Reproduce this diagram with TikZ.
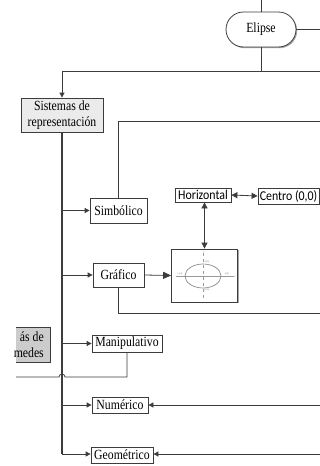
\documentclass[tikz,border=0pt]{standalone}
\usepackage{fontspec}
\setmainfont{Liberation Serif}[FakeStretch=0.84]
\newfontfamily\calib{Carlito}[FakeStretch=0.88]
\usetikzlibrary{arrows.meta,shapes.misc,shadows}
\definecolor{ln}{HTML}{3c3c3c}
\tikzset{
  box/.style={draw=ln, line width=0.8pt, fill=white, inner sep=0pt, align=center,
    font=\fontsize{14}{16}\selectfont,
    copy shadow={shadow xshift=1.2pt, shadow yshift=-1.2pt, fill=black!35, draw=none}},
  sbox/.style={box, font=\calib\fontsize{13.5}{15}\selectfont},
  ln/.style={draw=ln, line width=0.8pt},
  arr/.style={ln, -{Triangle[length=5pt,width=5pt]}},
  darr/.style={ln, {Triangle[length=6pt,width=6pt]}-{Triangle[length=6pt,width=6pt]}},
}
\begin{document}
\begin{tikzpicture}[x=1pt,y=-1pt]
\useasboundingbox (0,0) rectangle (320,466);
\fill[white] (0,0) rectangle (320,466);
% nodes
\node[box, rounded rectangle, minimum width=70, minimum height=35] (eli) at (261,29.5) {Elipse};
\node[box, fill=black!8, minimum width=82, minimum height=34] (sis) at (62,115) {Sistemas de\\representación};
\node[box, minimum width=57, minimum height=25] (simb) at (118.5,210.5) {Simbólico};
\node[box, minimum width=51, minimum height=24] (gra) at (118.5,275) {Gráfico};
\node[box, minimum width=70, minimum height=17] (man) at (127,343.5) {Manipulativo};
\node[box, minimum width=56, minimum height=16] (num) at (120,405) {Numérico};
\node[box, minimum width=62, minimum height=16] (geo) at (122,455) {Geométrico};
\node[sbox, minimum width=56, minimum height=14] (hor) at (203,195) {Horizontal};
\node[sbox, minimum width=61, minimum height=16] (cen) at (288.5,196) {Centro (0,0)};
\node[box, minimum width=66, minimum height=53] (img) at (204.5,275.5) {};
% left clipped box
\begin{scope}
\clip (16,0) rectangle (320,466);
\node[box, fill=black!20, minimum width=60, minimum height=35] (arq) at (20,344.5) {};
\end{scope}
\node[font=\fontsize{14}{16}\selectfont, align=right, inner sep=0pt, anchor=east] (arqt) at (44,344.5) {ás de\\medes};
% ellipse drawing inside image
\draw[black!40, line width=0.5pt] (176,276) -- (234,276);
\draw[black!40, line width=0.5pt, dashed] (203,253) -- (203,299);
\draw[black!45, line width=0.7pt] (203,276) ellipse [x radius=18, y radius=12];
\begin{scope}[font=\fontsize{2.5}{3}\selectfont, text=black!60, inner sep=0pt]
\node (lt) at (207,262) {(0,b)};
\node (lb) at (207,290) {(0,-b)};
\node (ll) at (180,274) {(-a,0)};
\node (lr) at (227,274) {(a,0)};
\node (lx) at (235,277) {x};
\node (ly) at (204,252) {y};
\end{scope}
% coordinates
\coordinate (top) at (261,0);
\coordinate (er) at (320,29.5);
\coordinate (h1) at (261,71);
\coordinate (h1r) at (320,71);
\coordinate (r1) at (320,121);
\coordinate (r2) at (320,313);
\coordinate (r3) at (320,405);
\coordinate (r4) at (320,454);
\coordinate (tb) at (62,454);
\coordinate (hopl) at (16,377);
% connectors
\draw[ln] (top) -- (eli.north);
\draw[ln] (eli.east) -- (er);
\draw[ln] (eli.south) -- (h1);
\draw[ln] (h1r) -- (62,71);
\draw[arr] (62,71) -- (sis.north);
\draw[ln, line width=1.1pt] (sis.south) -- (tb);
\draw[arr] (sis.south |- simb.west) -- (simb.west);
\draw[arr] (sis.south |- gra.west) -- (gra.west);
\draw[arr] (sis.south |- man.west) -- (man.west);
\draw[arr] (sis.south |- num.west) -- (num.west);
\draw[arr] (tb) -- (tb -| geo.west);
\draw[ln] (simb.north) -- (simb.north |- r1) -- (r1);
\draw[ln] (gra.south) -- (gra.south |- r2) -- (r2);
\draw[ln, -{Triangle[length=8pt,width=7pt]}] (gra.east) -- (img.west);
\draw[darr] (hor.south -| img.north) -- (img.north);
\draw[darr] (hor.east) -- (cen.west);
\draw[arr] (r3) -- (num.east);
\draw[arr] (r4) -- (r4 -| geo.east);
\draw[ln] (man.south -| 127,0) -- (127,377) -- (65,377) arc[start angle=0, end angle=-180, radius=3] -- (hopl);
\end{tikzpicture}
\end{document}
